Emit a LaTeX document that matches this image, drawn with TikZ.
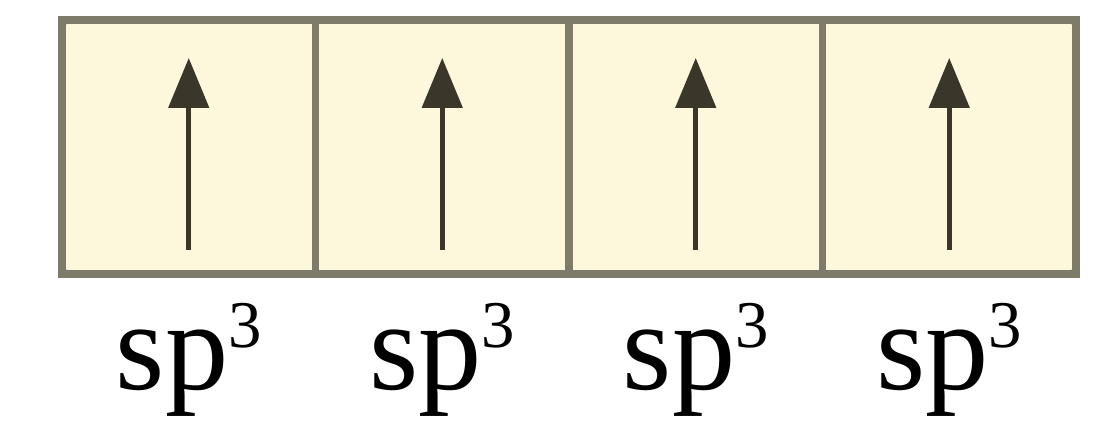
\documentclass[tikz,border=0pt]{standalone}
\usepackage{fontspec}
\setmainfont{Liberation Serif}
\usetikzlibrary{arrows.meta, positioning}
\definecolor{orbfill}{HTML}{FDF8DC}
\definecolor{orbdraw}{HTML}{7F7B6A}
\definecolor{spinc}{HTML}{3A362A}
\newcommand{\hybsup}[1]{\raisebox{0.42cm}{\fontsize{19}{20}\selectfont #1}}

\begin{document}
\begin{tikzpicture}[
    orb/.style={draw=orbdraw, fill=orbfill, line width=2pt, minimum width=2.535cm, minimum height=2.54cm, inner sep=0pt, outer sep=0pt},
    spin/.style={-{Triangle[length=5mm, width=4mm]}, line width=1.4pt, draw=spinc, fill=spinc!70!black},
    lbl/.style={anchor=base, font=\fontsize{36}{40}\selectfont, inner sep=0pt}
]
\useasboundingbox (0,0) rectangle (10.93,4.36);

\node[orb, anchor=north west] (o1) at (0.62,4.16) {};
\node[orb, right=0pt of o1] (o2) {};
\node[orb, right=0pt of o2] (o3) {};
\node[orb, right=0pt of o3] (o4) {};

\draw[orbdraw, line width=2pt, rounded corners=1.5pt] (o1.north west) rectangle (o4.south east);

\draw[spin] ([yshift=0.24cm]o1.south) -- ([yshift=-0.38cm]o1.north);
\draw[spin] ([yshift=0.24cm]o2.south) -- ([yshift=-0.38cm]o2.north);
\draw[spin] ([yshift=0.24cm]o3.south) -- ([yshift=-0.38cm]o3.north);
\draw[spin] ([yshift=0.24cm]o4.south) -- ([yshift=-0.38cm]o4.north);

\node[lbl] (l1) at (o1.center |- 0,0.46) {sp\hybsup{3}};
\node[lbl] (l2) at (o2.center |- 0,0.46) {sp\hybsup{3}};
\node[lbl] (l3) at (o3.center |- 0,0.46) {sp\hybsup{3}};
\node[lbl] (l4) at (o4.center |- 0,0.46) {sp\hybsup{3}};

\end{tikzpicture}
\end{document}
